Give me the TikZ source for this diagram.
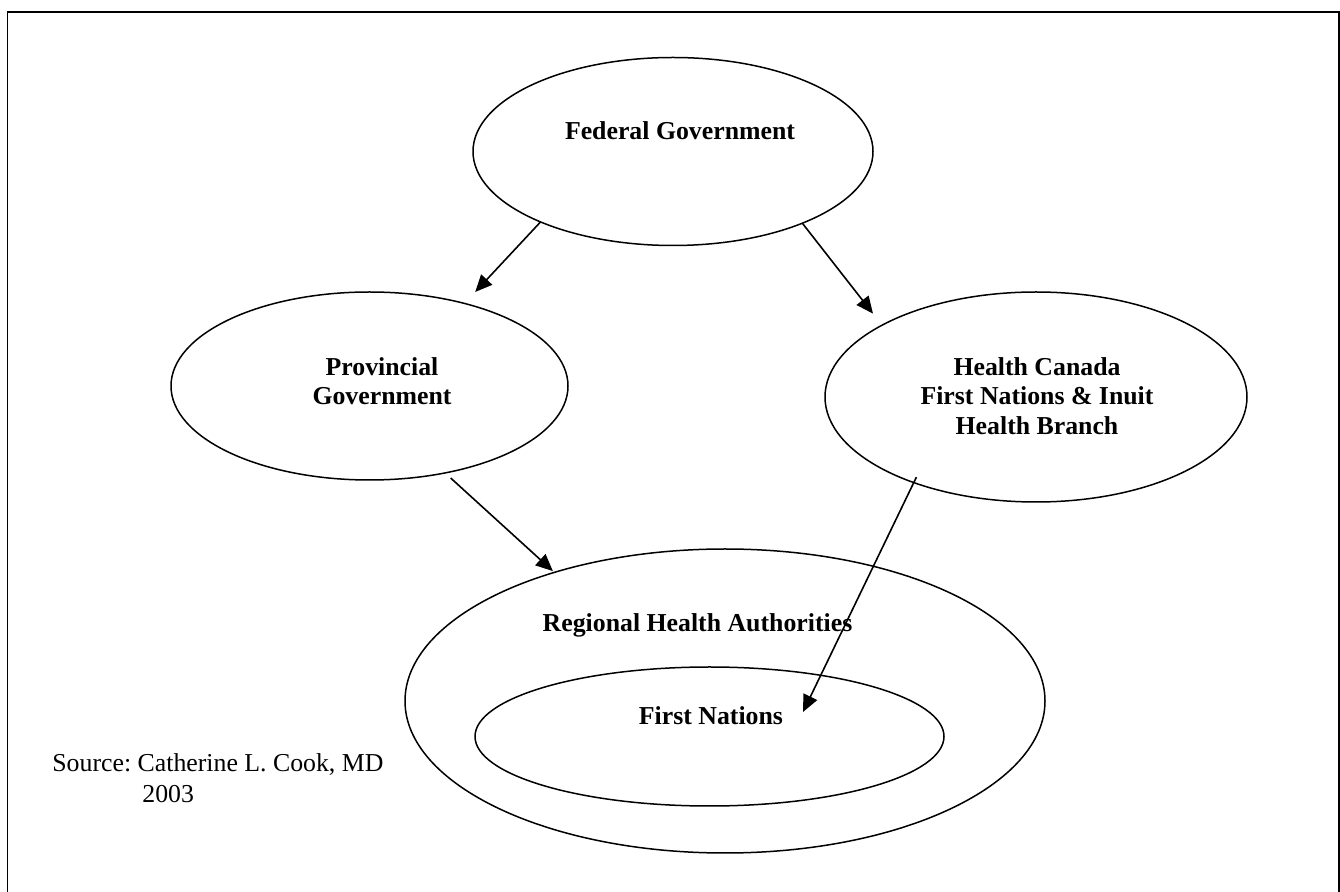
\documentclass[tikz,border=0pt]{standalone}
\usepackage{fontspec}
\setmainfont{Liberation Serif}
\usetikzlibrary{shapes.geometric,arrows.meta}
\frenchspacing
\begin{document}
\begin{tikzpicture}[x=0.5pt,y=-0.5pt,
  oval/.style={draw,ellipse,line width=0.75pt,inner sep=0pt,outer sep=0pt},
  lbl/.style={font=\fontsize{12.9}{14.8}\selectfont\bfseries,align=center,inner sep=0pt},
  plain/.style={font=\fontsize{12.9}{14.8}\selectfont,inner sep=0pt,anchor=base west},
  arr/.style={-{Triangle[length=8.5pt,width=7.5pt]},line width=0.8pt},
]
\useasboundingbox (0,0) rectangle (1340,892);
% page frame, open at the bottom edge
\begin{scope}
  \clip (0,0) rectangle (1340,892);
  \draw[line width=0.9pt] (7.5,12) rectangle (1339,920);
\end{scope}

% ovals
\node[oval,minimum width=200pt,minimum height=94pt]   (fed)  at (673,151.5) {};
\node[oval,minimum width=198.5pt,minimum height=94pt] (prov) at (369.5,386) {};
\node[oval,minimum width=211pt,minimum height=105pt]  (hc)   at (1036,397) {};
\node[oval,minimum width=320pt,minimum height=152pt]  (rha)  at (725,701) {};
\node[oval,minimum width=234.5pt,minimum height=69.5pt] (fn) at (709.5,736.5) {};

% labels
\node[lbl,anchor=base] (fedT) at (680,140) {Federal Government};
\node[lbl] (provT) at (382,381) {Provincial\\Government};
\node[lbl] (hcT) at (1037,396) {Health Canada\\First Nations \& Inuit\\Health Branch};
\node[lbl,anchor=base] (rhaT) at (697.5,632) {Regional Health Authorities};
\node[lbl,anchor=base] (fnT) at (711,725) {First Nations};

\node[plain] (src) at (52,772) {Source: Catherine L. Cook, MD};
\node[plain] (yr)  at (142,803) {2003};

% connectors
\coordinate (fnTip) at (803,712);
\draw[arr,shorten >=7.85pt] (fed.208.8) -- (prov.41.2);
\draw[arr,shorten >=7.35pt] (fed.331.5) -- (hc.155.35);
\draw[arr,shorten <=3.8pt,shorten >=1pt] (prov.311.6) -- (rha.143.6);
\draw[arr,shorten <=-3pt] (hc.215.85) -- (fnTip);
\end{tikzpicture}
\end{document}
